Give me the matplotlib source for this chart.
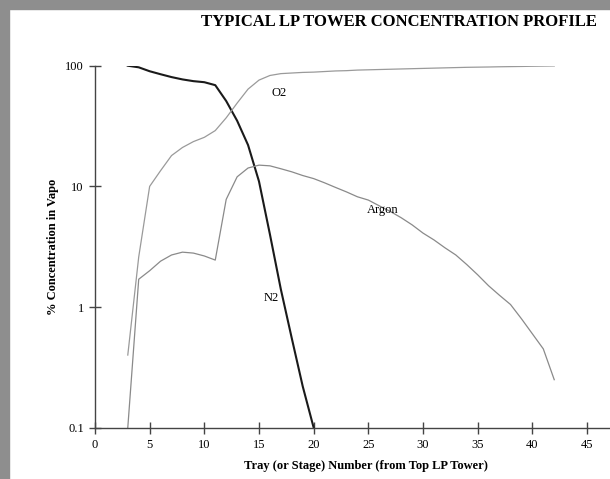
import matplotlib
matplotlib.use('Agg')
import matplotlib.pyplot as plt
from matplotlib.patches import Rectangle

plt.rcParams['font.family'] = ['Liberation Serif', 'DejaVu Serif']

# tray numbers
trays = list(range(3, 43))
trays_n2 = list(range(3, 21))

# % concentration in vapour
n2 = [100, 97, 90, 85, 80.5, 77, 74.5, 73, 69, 51, 35, 22, 11, 4.0, 1.4, 0.55, 0.22, 0.1]
o2 = [0.4, 2.6, 10, 13.5, 18, 21, 23.5, 25.5, 29, 37, 49, 64, 76, 83, 86, 87, 88,
      88.5, 89.5, 90.5, 91, 92, 92.5, 93, 93.5, 94, 94.5, 95, 95.5, 96, 96.5, 97,
      97.3, 97.6, 98, 98.3, 98.6, 99, 99.3, 99.6]
argon = [0.1, 1.7, 2.0, 2.4, 2.7, 2.85, 2.8, 2.65, 2.45, 7.8, 12, 14.2, 15, 14.8,
         14, 13.2, 12.3, 11.6, 10.7, 9.8, 9.0, 8.2, 7.7, 6.9, 6.2, 5.5, 4.8, 4.1,
         3.6, 3.1, 2.7, 2.25, 1.85, 1.5, 1.25, 1.05, 0.8, 0.6, 0.45, 0.25]

xticks = list(range(0, 50, 5))
yticks = [0.1, 1, 10, 100]
yticklabels = ['0.1', '1', '10', '100']

fig = plt.figure(figsize=(6.1, 4.79), dpi=100)
fig.patch.set_facecolor('white')
# grey slide border on top and left
fig.patches.append(Rectangle((0, 1 - 9 / 479), 1, 9 / 479, transform=fig.transFigure,
                             color='#8e8e8e', zorder=0))
fig.patches.append(Rectangle((0, 0), 9 / 610, 1, transform=fig.transFigure,
                             color='#8e8e8e', zorder=0))

ax = fig.add_axes([0.1557, 0.1071, 0.8443, 0.7557])
ax.plot(trays_n2, n2, color='#1a1a1a', lw=1.5)
ax.plot(trays, o2, color='#9a9a9a', lw=0.9)
ax.plot(trays, argon, color='#8a8a8a', lw=0.9)

ax.set_yscale('log')
ax.set_ylim(0.1, 100)
ax.set_xlim(0, 47.1)
ax.set_yticks(yticks)
ax.set_yticklabels(yticklabels)
ax.minorticks_off()
ax.set_xticks(xticks)

for s in ['top', 'right']:
    ax.spines[s].set_visible(False)
for s in ['left', 'bottom']:
    ax.spines[s].set_color('#444444')
    ax.spines[s].set_linewidth(1.0)
ax.tick_params(direction='inout', length=8, width=1.0, color='#444444',
               labelsize=9, pad=4)
ax.set_facecolor('none')

ax.text(16.8, 59.7, 'O2', fontsize=9, ha='center', va='center')
ax.text(26.3, 6.37, 'Argon', fontsize=9, ha='center', va='center')
ax.text(16.13, 1.18, 'N2', fontsize=9, ha='center', va='center')

fig.text(0.654, 0.954, 'TYPICAL LP TOWER CONCENTRATION PROFILE', fontsize=12,
         fontweight='bold', ha='center', va='center')
fig.text(0.6, 0.027, 'Tray (or Stage) Number (from Top LP Tower)', fontsize=9,
         fontweight='bold', ha='center', va='center')
fig.text(0.087, 0.485, '% Concentration in Vapo', fontsize=9, fontweight='bold',
         ha='center', va='center', rotation=90)

fig.savefig('out.png', dpi=100)
